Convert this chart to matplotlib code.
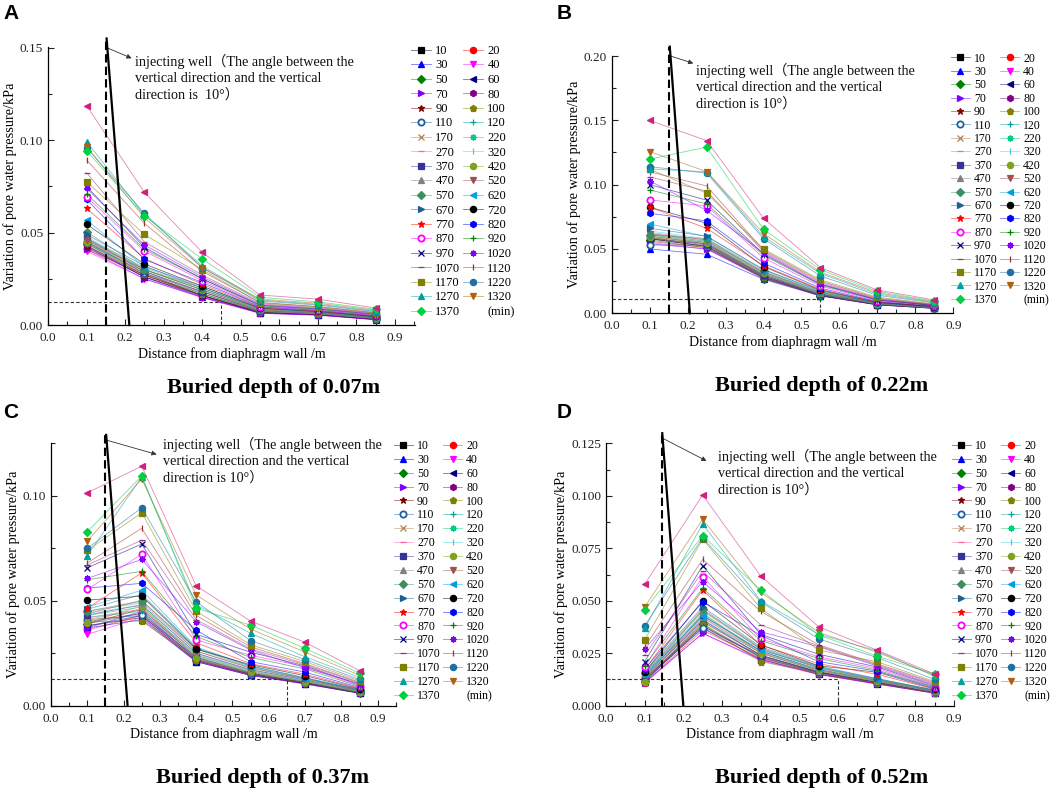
import matplotlib
matplotlib.use('Agg')
import matplotlib.pyplot as plt
from matplotlib.lines import Line2D
from matplotlib.ticker import MultipleLocator, FormatStrFormatter
from matplotlib.colors import to_rgba

# ---------------- data ----------------
x_pos = [0.1, 0.25, 0.4, 0.55, 0.7, 0.85]
times = ['10', '20', '30', '40', '50', '60', '70', '80', '90', '100', '110', '120',
         '170', '220', '270', '320', '370', '420', '470', '520', '570', '620', '670',
         '720', '770', '820', '870', '920', '970', '1020', '1070', '1120', '1170',
         '1220', '1270', '1320', '1370']

vals_A = [
    [0.042, 0.026, 0.016, 0.0065, 0.0055, 0.0030],
    [0.041, 0.027, 0.016, 0.0068, 0.0056, 0.0032],
    [0.043, 0.026, 0.015, 0.0064, 0.0054, 0.0029],
    [0.040, 0.025, 0.0148, 0.0063, 0.0053, 0.0028],
    [0.044, 0.027, 0.017, 0.0070, 0.0058, 0.0033],
    [0.045, 0.028, 0.016, 0.0069, 0.0057, 0.0031],
    [0.041, 0.025, 0.015, 0.0066, 0.0055, 0.0030],
    [0.0424, 0.026, 0.0155, 0.0067, 0.0056, 0.0031],
    [0.043, 0.027, 0.016, 0.0070, 0.0058, 0.0034],
    [0.0442, 0.0275, 0.017, 0.0072, 0.0060, 0.0035],
    [0.045, 0.028, 0.018, 0.0074, 0.0061, 0.0036],
    [0.044, 0.029, 0.017, 0.0073, 0.0060, 0.0035],
    [0.046, 0.029, 0.018, 0.0076, 0.0062, 0.0037],
    [0.047, 0.030, 0.019, 0.0078, 0.0063, 0.0038],
    [0.046, 0.028, 0.018, 0.0075, 0.0062, 0.0037],
    [0.048, 0.030, 0.019, 0.0080, 0.0065, 0.0040],
    [0.0469, 0.029, 0.018, 0.0078, 0.0064, 0.0039],
    [0.045, 0.030, 0.019, 0.0082, 0.0066, 0.0040],
    [0.047, 0.031, 0.020, 0.0085, 0.0068, 0.0042],
    [0.046, 0.030, 0.019, 0.0083, 0.0067, 0.0041],
    [0.0505, 0.030, 0.020, 0.0088, 0.0070, 0.0043],
    [0.0568, 0.0315, 0.021, 0.0090, 0.0072, 0.0045],
    [0.049, 0.032, 0.020, 0.0089, 0.0071, 0.0044],
    [0.0545, 0.033, 0.021, 0.0092, 0.0074, 0.0046],
    [0.0631, 0.036, 0.022, 0.0095, 0.0076, 0.0048],
    [0.068, 0.0355, 0.023, 0.0098, 0.0079, 0.0050],
    [0.0694, 0.040, 0.024, 0.0100, 0.0081, 0.0052],
    [0.071, 0.041, 0.025, 0.0104, 0.0084, 0.0055],
    [0.075, 0.042, 0.025, 0.0107, 0.0087, 0.0058],
    [0.074, 0.0433, 0.026, 0.0110, 0.0090, 0.0060],
    [0.0824, 0.045, 0.027, 0.0115, 0.0094, 0.0063],
    [0.0893, 0.055, 0.029, 0.0122, 0.0100, 0.0067],
    [0.0775, 0.049, 0.030, 0.0120, 0.0098, 0.0065],
    [0.096, 0.0604, 0.031, 0.0130, 0.0108, 0.0072],
    [0.0992, 0.0595, 0.032, 0.0135, 0.0112, 0.0075],
    [0.0965, 0.058, 0.031, 0.0140, 0.0118, 0.0080],
    [0.0943, 0.0591, 0.0357, 0.0150, 0.0125, 0.0085],
    [0.1187, 0.0718, 0.0393, 0.0162, 0.0140, 0.0092],
]

vals_B = [
    [0.058, 0.052, 0.028, 0.0138, 0.0068, 0.0040],
    [0.056, 0.051, 0.0275, 0.0137, 0.0067, 0.0039],
    [0.050, 0.0459, 0.0264, 0.0135, 0.0065, 0.0038],
    [0.055, 0.050, 0.027, 0.0136, 0.0066, 0.0039],
    [0.057, 0.051, 0.027, 0.0138, 0.0068, 0.0040],
    [0.058, 0.052, 0.028, 0.0140, 0.0069, 0.0041],
    [0.054, 0.050, 0.028, 0.0139, 0.0068, 0.0040],
    [0.059, 0.053, 0.029, 0.0142, 0.0070, 0.0042],
    [0.060, 0.054, 0.029, 0.0143, 0.0071, 0.0042],
    [0.059, 0.052, 0.028, 0.0141, 0.0070, 0.0041],
    [0.0531, 0.053, 0.029, 0.0145, 0.0072, 0.0043],
    [0.061, 0.055, 0.030, 0.0147, 0.0073, 0.0044],
    [0.060, 0.055, 0.030, 0.0150, 0.0074, 0.0045],
    [0.062, 0.056, 0.031, 0.0153, 0.0075, 0.0046],
    [0.063, 0.057, 0.031, 0.0155, 0.0076, 0.0046],
    [0.064, 0.058, 0.032, 0.0158, 0.0078, 0.0047],
    [0.058, 0.054, 0.030, 0.0150, 0.0074, 0.0045],
    [0.059, 0.055, 0.031, 0.0155, 0.0076, 0.0046],
    [0.061, 0.056, 0.032, 0.0160, 0.0078, 0.0047],
    [0.062, 0.057, 0.032, 0.0162, 0.0079, 0.0048],
    [0.061, 0.058, 0.033, 0.0165, 0.0080, 0.0049],
    [0.0695, 0.0596, 0.034, 0.0170, 0.0082, 0.0050],
    [0.066, 0.060, 0.034, 0.0175, 0.0084, 0.0051],
    [0.0825, 0.070, 0.0363, 0.0180, 0.0086, 0.0052],
    [0.0825, 0.0661, 0.037, 0.0185, 0.0088, 0.0053],
    [0.0778, 0.0718, 0.039, 0.0195, 0.0092, 0.0055],
    [0.0881, 0.0835, 0.043, 0.0210, 0.0098, 0.0058],
    [0.0959, 0.085, 0.045, 0.0220, 0.0102, 0.0060],
    [0.100, 0.088, 0.046, 0.0225, 0.0105, 0.0062],
    [0.1029, 0.080, 0.047, 0.0230, 0.0108, 0.0064],
    [0.106, 0.095, 0.048, 0.0240, 0.0112, 0.0066],
    [0.110, 0.099, 0.049, 0.0250, 0.0118, 0.0069],
    [0.112, 0.0934, 0.050, 0.0260, 0.0125, 0.0072],
    [0.114, 0.109, 0.058, 0.0290, 0.0140, 0.0080],
    [0.1122, 0.110, 0.0596, 0.0310, 0.0150, 0.0085],
    [0.1257, 0.1102, 0.062, 0.0320, 0.0160, 0.0090],
    [0.1198, 0.1292, 0.0653, 0.0340, 0.0170, 0.0095],
    [0.1499, 0.1343, 0.0739, 0.0355, 0.0181, 0.0104],
]

vals_C = [
    [0.038, 0.042, 0.021, 0.0145, 0.0105, 0.0060],
    [0.036, 0.043, 0.0215, 0.0148, 0.0107, 0.0061],
    [0.037, 0.041, 0.021, 0.0144, 0.0104, 0.0059],
    [0.034, 0.042, 0.0212, 0.0146, 0.0103, 0.0060],
    [0.039, 0.044, 0.022, 0.0150, 0.0108, 0.0062],
    [0.038, 0.043, 0.0215, 0.0149, 0.0107, 0.0061],
    [0.037, 0.045, 0.022, 0.0151, 0.0109, 0.0062],
    [0.040, 0.044, 0.0225, 0.0153, 0.0110, 0.0063],
    [0.039, 0.046, 0.023, 0.0155, 0.0111, 0.0064],
    [0.040, 0.0403, 0.022, 0.0152, 0.0109, 0.0063],
    [0.041, 0.043, 0.023, 0.0157, 0.0112, 0.0065],
    [0.042, 0.045, 0.0235, 0.0160, 0.0114, 0.0066],
    [0.041, 0.046, 0.024, 0.0163, 0.0116, 0.0067],
    [0.043, 0.047, 0.024, 0.0166, 0.0118, 0.0068],
    [0.042, 0.046, 0.0245, 0.0168, 0.0120, 0.0069],
    [0.044, 0.048, 0.025, 0.0170, 0.0122, 0.0070],
    [0.0432, 0.048, 0.025, 0.0172, 0.0123, 0.0071],
    [0.0395, 0.0476, 0.0225, 0.0160, 0.0115, 0.0066],
    [0.045, 0.049, 0.026, 0.0178, 0.0126, 0.0073],
    [0.044, 0.050, 0.026, 0.0180, 0.0128, 0.0074],
    [0.045, 0.050, 0.027, 0.0183, 0.0130, 0.0075],
    [0.047, 0.055, 0.028, 0.0190, 0.0134, 0.0077],
    [0.046, 0.053, 0.0275, 0.0188, 0.0132, 0.0076],
    [0.0503, 0.0522, 0.027, 0.0195, 0.0143, 0.0080],
    [0.0464, 0.0633, 0.030, 0.0200, 0.0150, 0.0083],
    [0.056, 0.0583, 0.036, 0.0210, 0.0160, 0.0087],
    [0.0554, 0.0722, 0.0313, 0.0240, 0.0186, 0.0095],
    [0.060, 0.064, 0.033, 0.0230, 0.0175, 0.0092],
    [0.0657, 0.077, 0.034, 0.0255, 0.0190, 0.0100],
    [0.0606, 0.0697, 0.040, 0.0265, 0.0180, 0.0105],
    [0.067, 0.0789, 0.041, 0.0270, 0.0195, 0.0108],
    [0.068, 0.0845, 0.043, 0.0280, 0.0200, 0.0112],
    [0.074, 0.0919, 0.045, 0.0290, 0.0210, 0.0118],
    [0.0749, 0.0943, 0.0495, 0.0310, 0.0220, 0.0125],
    [0.0714, 0.109, 0.048, 0.0345, 0.0233, 0.0135],
    [0.0784, 0.108, 0.0527, 0.0365, 0.0255, 0.0145],
    [0.0829, 0.1094, 0.0464, 0.0384, 0.0273, 0.0155],
    [0.1014, 0.1141, 0.0571, 0.0403, 0.0302, 0.0167],
]

vals_D = [
    [0.012, 0.037, 0.022, 0.0150, 0.0105, 0.0060],
    [0.011, 0.036, 0.0225, 0.0152, 0.0107, 0.0061],
    [0.0115, 0.038, 0.023, 0.0155, 0.0108, 0.0062],
    [0.0107, 0.0345, 0.0215, 0.0148, 0.0103, 0.0059],
    [0.012, 0.039, 0.023, 0.0157, 0.0110, 0.0063],
    [0.013, 0.0408, 0.024, 0.0160, 0.0112, 0.0064],
    [0.011, 0.0345, 0.022, 0.0150, 0.0104, 0.0060],
    [0.0125, 0.038, 0.0235, 0.0158, 0.0110, 0.0063],
    [0.012, 0.040, 0.024, 0.0160, 0.0112, 0.0064],
    [0.0115, 0.039, 0.021, 0.0155, 0.0108, 0.0062],
    [0.013, 0.037, 0.024, 0.0162, 0.0113, 0.0065],
    [0.0135, 0.041, 0.025, 0.0165, 0.0115, 0.0066],
    [0.013, 0.042, 0.025, 0.0167, 0.0116, 0.0067],
    [0.014, 0.043, 0.026, 0.0170, 0.0118, 0.0068],
    [0.0135, 0.042, 0.0255, 0.0168, 0.0117, 0.0067],
    [0.0145, 0.044, 0.026, 0.0172, 0.0120, 0.0069],
    [0.014, 0.043, 0.026, 0.0173, 0.0121, 0.0070],
    [0.0115, 0.044, 0.025, 0.0170, 0.0119, 0.0069],
    [0.015, 0.045, 0.027, 0.0178, 0.0123, 0.0071],
    [0.0145, 0.0456, 0.027, 0.0180, 0.0125, 0.0072],
    [0.0155, 0.046, 0.0275, 0.0183, 0.0127, 0.0073],
    [0.015, 0.0427, 0.0265, 0.0185, 0.0128, 0.0074],
    [0.016, 0.047, 0.028, 0.0188, 0.0130, 0.0075],
    [0.016, 0.050, 0.029, 0.0190, 0.0160, 0.0080],
    [0.017, 0.0551, 0.0289, 0.0200, 0.0150, 0.0078],
    [0.0175, 0.0495, 0.0335, 0.0210, 0.0165, 0.0085],
    [0.0186, 0.0615, 0.0318, 0.0233, 0.0178, 0.0090],
    [0.019, 0.056, 0.031, 0.0225, 0.0170, 0.0088],
    [0.021, 0.0667, 0.034, 0.0245, 0.0185, 0.0095],
    [0.0269, 0.0591, 0.0352, 0.0281, 0.0190, 0.0100],
    [0.024, 0.064, 0.0385, 0.0285, 0.0195, 0.0105],
    [0.028, 0.0697, 0.045, 0.0290, 0.0200, 0.0110],
    [0.0313, 0.0793, 0.0464, 0.0265, 0.0210, 0.0115],
    [0.0381, 0.080, 0.0495, 0.0318, 0.0230, 0.0125],
    [0.0369, 0.0866, 0.050, 0.0340, 0.0262, 0.0140],
    [0.047, 0.0888, 0.054, 0.0350, 0.0255, 0.0145],
    [0.0456, 0.081, 0.0551, 0.0337, 0.0237, 0.0150],
    [0.0578, 0.1004, 0.0618, 0.0376, 0.0265, 0.0151],
]

titles = ['Buried depth of 0.07m', 'Buried depth of 0.22m',
          'Buried depth of 0.37m', 'Buried depth of 0.52m']
panel_letters = ['A', 'B', 'C', 'D']
# minimum-pressure guide (y level, x position) per panel
guide_y = [0.0126, 0.0111, 0.0126, 0.0126]
guide_x = [0.45, 0.55, 0.65, 0.60]

# ---------------- styles ----------------
AST = (8, 2, 0)
markers = ['s', 'o', '^', 'v', 'D', '<', '>', 'h', '*', 'p', 'o', '+', 'x', AST, '_', '|',
           's', 'o', '^', 'v', 'D', '<', '>', 'o', '*', 'h', 'o', '+', 'x', AST, '_', '|',
           's', 'o', '^', 'v', 'D', '<']
colors = ['#000000', '#ff0000', '#0000ff', '#ff00ff', '#008000', '#000080', '#8000ff',
          '#800080', '#800000', '#808000', '#1f5fa0', '#00a0a0', '#b08050', '#00d080',
          '#ff60a0', '#40d0e0', '#333399', '#80a020', '#808080', '#a05050', '#3a9060',
          '#00a0e0', '#1f6090', '#000000', '#ff0000', '#0000ff', '#ff00ff', '#008000',
          '#000080', '#8000ff', '#a03070', '#a03030', '#808000', '#1f6fa0', '#00a0a0',
          '#b06010', '#00d040', '#d02080']
ring = {10, 26}

SERIF = ['Liberation Serif', 'DejaVu Serif']
SERIF_CJK = ['Liberation Serif', 'Noto Sans CJK SC', 'DejaVu Sans']

W, H = 1059, 791
fig = plt.figure(figsize=(W / 100, H / 100), dpi=100)

def fx(px):
    return px / W

def fy(py):
    return 1 - py / H

panels = [
    dict(data=vals_A, box=(48, 47, 415, 325), xlim=0.952, ylim=0.1504, ymaj=0.05, ymin=0.025,
         yfmt='%.2f', wellx=(0.150, 0.152, 0.211), welltop=0.155,
         arrow=((0.153, 0.150), (0.217, 0.1443)), text=(0.226, 0.1465),
         note='injecting well（The angle between the\nvertical direction and the vertical\ndirection is  10°）',
         leg=(411, 45), lfs=9, lsp=0.2, title=(274, 388), letter=(3, 4)),
    dict(data=vals_B, box=(611.7, 55.5, 953.3, 313.3), xlim=0.9, ylim=0.2004, ymaj=0.05, ymin=0.025,
         yfmt='%.2f', wellx=(0.151, 0.153, 0.206), welltop=0.2073,
         arrow=((0.155, 0.200), (0.215, 0.1943)), text=(0.222, 0.1950),
         note='injecting well（The angle between the\nvertical direction and the vertical\ndirection is 10°）',
         leg=(951, 52.5), lfs=8.5, lsp=0.12, title=(822, 386), letter=(557, 4)),
    dict(data=vals_C, box=(51, 443.3, 396, 705.7), xlim=0.9505, ylim=0.125, ymaj=0.05, ymin=0.025,
         yfmt='%.2f', wellx=(0.150, 0.152, 0.211), welltop=0.129,
         arrow=((0.153, 0.1265), (0.291, 0.1197)), text=(0.3077, 0.1280),
         note='injecting well（The angle between the\nvertical direction and the vertical\ndirection is 10°）',
         leg=(394, 440), lfs=8.5, lsp=0.16, title=(263, 778), letter=(3, 403)),
    dict(data=vals_D, box=(606, 443.3, 954, 705.7), xlim=0.9, ylim=0.125, ymaj=0.025, ymin=0.0125,
         yfmt='%.3f', wellx=(0.144, 0.1455, 0.200), welltop=0.1298,
         arrow=((0.1465, 0.1274), (0.260, 0.1166)), text=(0.290, 0.1225),
         note='injecting well（The angle between the\nvertical direction and the vertical\ndirection is 10°）',
         leg=(952, 440), lfs=8.5, lsp=0.16, title=(822, 778), letter=(557, 403)),
]

for k, p in enumerate(panels):
    l, t, r, b = p['box']
    ax = fig.add_axes([fx(l), fy(b), (r - l) / W, (b - t) / H])
    ax.set_xlim(0, p['xlim'])
    ax.set_ylim(0, p['ylim'])
    for s in ('top', 'right'):
        ax.spines[s].set_visible(False)
    for s in ('left', 'bottom'):
        ax.spines[s].set_linewidth(0.9)
    ax.xaxis.set_major_locator(MultipleLocator(0.1))
    ax.xaxis.set_minor_locator(MultipleLocator(0.05))
    ax.yaxis.set_major_locator(MultipleLocator(p['ymaj']))
    ax.yaxis.set_minor_locator(MultipleLocator(p['ymin']))
    ax.xaxis.set_major_formatter(FormatStrFormatter('%.1f'))
    ax.yaxis.set_major_formatter(FormatStrFormatter(p['yfmt']))
    ax.tick_params(which='both', direction='in', width=0.8, labelsize=9.5, colors='#222222')
    ax.tick_params(which='major', length=4)
    ax.tick_params(which='minor', length=3)
    ax.tick_params(axis='x', pad=5)
    for lab in ax.get_xticklabels() + ax.get_yticklabels():
        lab.set_family(SERIF)
    ax.set_xlabel('Distance from diaphragm wall /m', family=SERIF, fontsize=10, labelpad=2)
    ax.set_ylabel('Variation of pore water pressure/kPa', family=SERIF, fontsize=10.3, labelpad=2)

    handles = []
    for i, vals in enumerate(p['data']):
        c = colors[i]
        lc = to_rgba(c, 0.55)
        mfc = 'white' if i in ring else c
        ln, = ax.plot(x_pos, vals, color=lc, lw=0.6, marker=markers[i], ms=4.5,
                      mfc=mfc, mec=c, mew=1.3 if i in ring else 0.9, zorder=3)
        if i < len(times):
            ln.set_label(times[i])
            handles.append(ln)

    # guides
    gy, gx = guide_y[k], guide_x[k]
    ax.plot([0, gx], [gy, gy], ls=(0, (3, 2)), color='#333333', lw=0.8, zorder=2)
    ax.plot([gx, gx], [0, gy], ls=(0, (3, 2)), color='#333333', lw=0.8, zorder=2)

    # injecting well
    dx, sx, ex = p['wellx']
    ax.plot([dx, dx], [0, p['welltop']], ls=(0, (4, 2)), color='black', lw=1.5,
            clip_on=False, zorder=4)
    ax.plot([sx, ex], [p['welltop'], 0], color='black', lw=1.6, clip_on=False, zorder=4)
    (ax0, ay0), (ax1, ay1) = p['arrow']
    ax.annotate('', xy=(ax1, ay1), xytext=(ax0, ay0),
                arrowprops=dict(arrowstyle='-|>', color='#333333', lw=0.6,
                                mutation_scale=7, shrinkA=0, shrinkB=0),
                annotation_clip=False)
    ax.text(p['text'][0], p['text'][1], p['note'], family=SERIF_CJK, fontsize=10.2,
            va='top', ha='left', linespacing=1.3, color='#111111')

    # legend (two columns, row-wise order)
    mh = Line2D([], [], ls='none', marker=None, label='(min)')
    col1 = handles[0::2]
    col2 = handles[1::2] + [mh]
    leg_h = col1 + col2
    ax.legend(handles=leg_h, labels=[h.get_label() for h in leg_h], ncol=2,
              loc='upper left', bbox_to_anchor=(fx(p['leg'][0]), fy(p['leg'][1])),
              bbox_transform=fig.transFigure, frameon=False, borderpad=0,
              borderaxespad=0, prop={'family': SERIF, 'size': p['lfs']},
              handlelength=1.6, handletextpad=0.35, columnspacing=0.2,
              labelspacing=p['lsp'], markerscale=1.0)

    fig.text(fx(p['title'][0]), fy(p['title'][1]), titles[k], ha='center', va='center',
             family=SERIF, fontweight='bold', fontsize=16)
    fig.text(fx(p['letter'][0]), fy(p['letter'][1]), panel_letters[k], ha='left', va='top',
             family=['Liberation Sans', 'DejaVu Sans'], fontweight='bold', fontsize=15)

fig.savefig('out.png', dpi=100)
